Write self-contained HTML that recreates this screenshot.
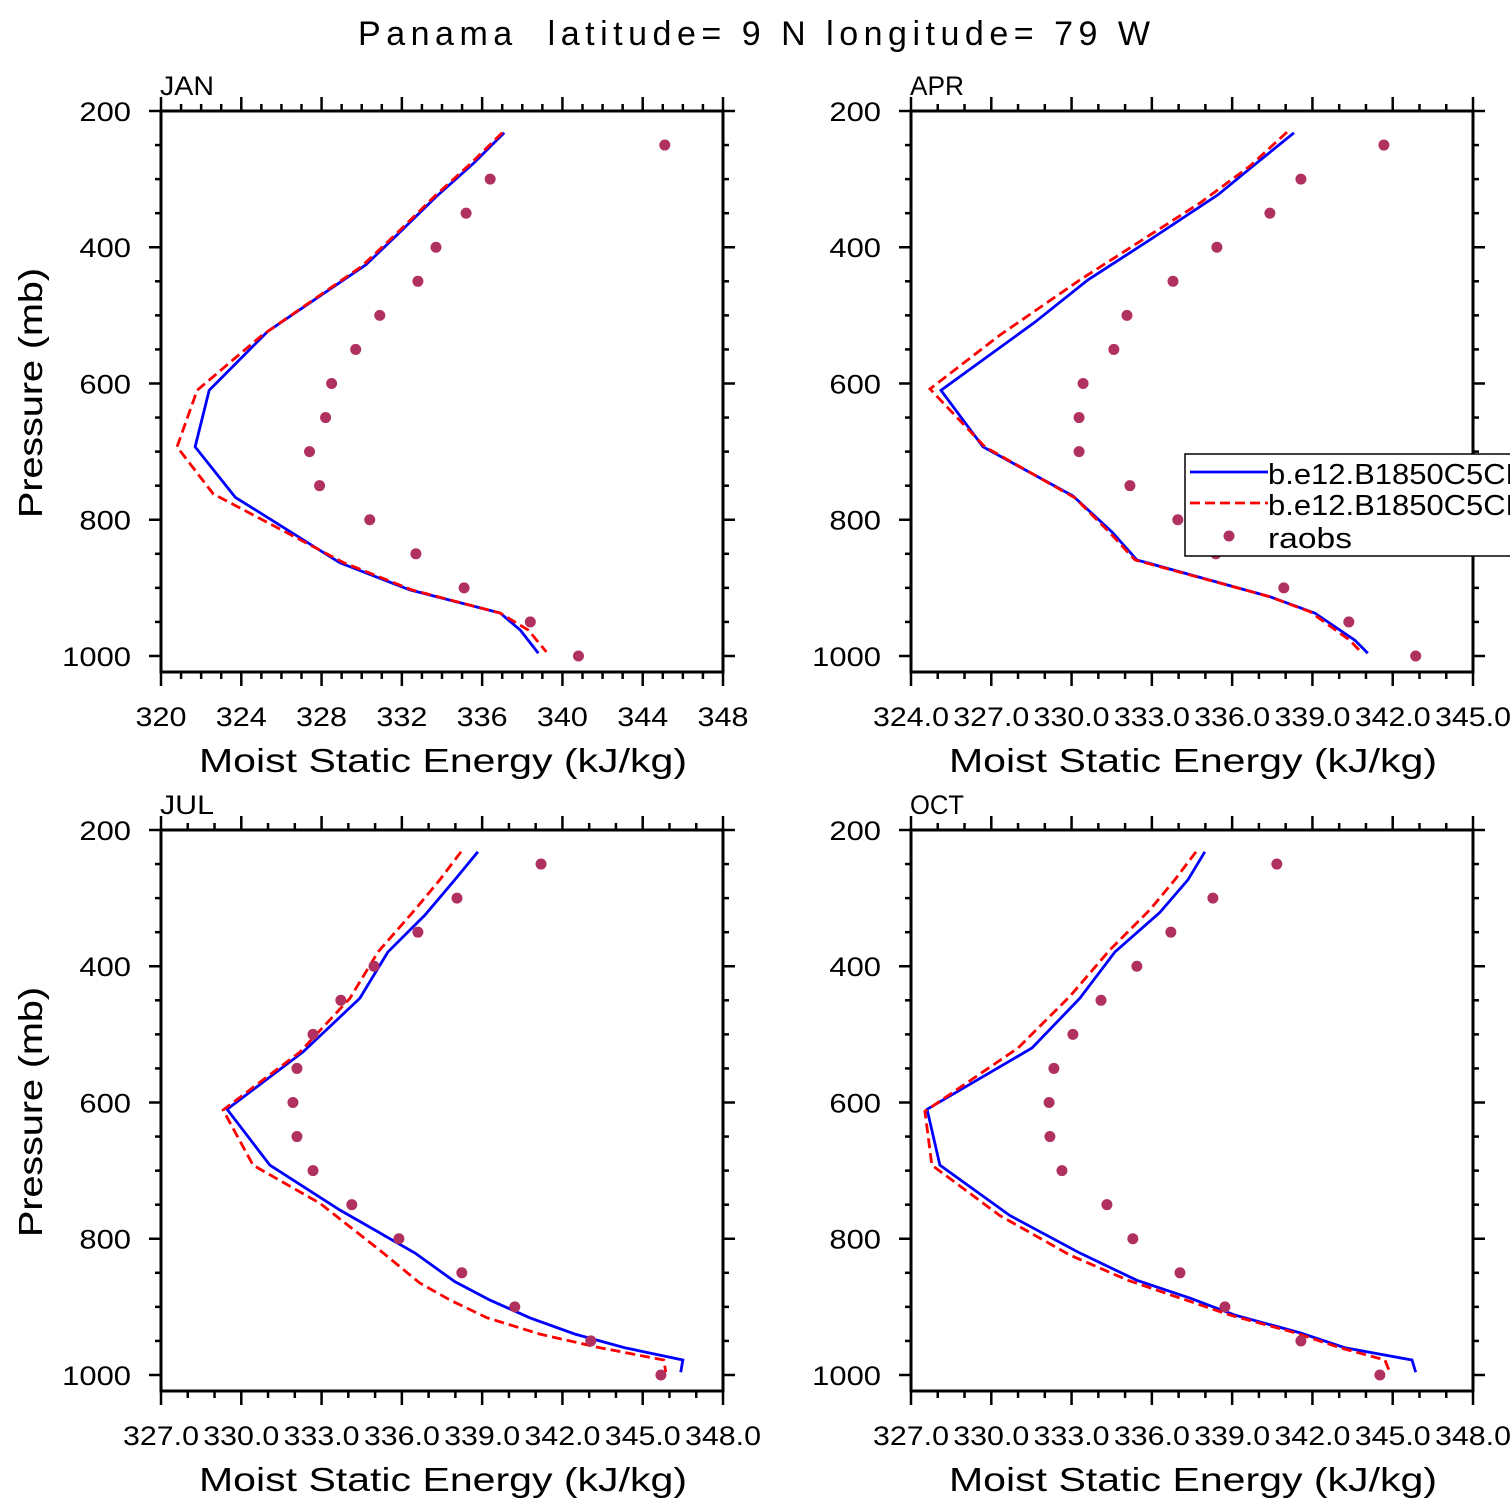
<!DOCTYPE html>
<html><head><meta charset="utf-8"><style>
html,body{margin:0;padding:0;background:#fff;overflow:hidden;}
svg{display:block;font-family:"Liberation Sans",sans-serif;}
</style></head><body>
<svg id="chart" width="1510" height="1510" viewBox="0 0 1510 1510" xmlns="http://www.w3.org/2000/svg">
<rect width="1510" height="1510" fill="#fff"/>
<text x="358" y="45" font-size="34" textLength="792" lengthAdjust="spacing" xml:space="preserve">Panama  latitude= 9 N longitude= 79 W</text>
</svg>
<script>
const rawP = [250,300,350,400,450,500,550,600,650,700,750,800,850,900,950,1000];
const janObs = [345.1,336.4,335.2,333.7,332.8,330.9,329.7,328.5,328.2,327.4,327.9,330.4,332.7,335.1,338.4,340.8];
const janBlueX = [337.1,335.6,333.7,332.0,330.2,325.3,322.4,321.7,323.7,328.9,332.4,336.9,337.9,338.8];
const janBlueP = [232,276,326,375,426,524,610,693,767,863,903,937,962,996];
const janRedX = [337.0,335.4,333.6,331.8,330.0,325.0,321.8,320.8,322.6,329.1,332.5,336.9,338.3,339.2];
const janRedP = [232,278,326,378,428,530,610,693,762,863,903,937,962,994];
const aprObs = [341.67,338.57,337.41,335.43,333.79,332.07,331.58,330.43,330.28,330.28,332.18,333.97,335.39,337.93,340.36,342.86];
const aprBlueX = [338.31,336.96,335.47,332.93,330.61,328.63,325.12,326.69,330.05,331.51,332.44,337.41,339.09,340.59,341.07];
const aprBlueP = [232,275,323,389,448,510,610,693,765,818,859,913,937,977,996];
const aprRedX = [338.05,336.66,334.80,332.93,330.31,327.32,324.71,326.76,330.13,331.43,332.37,337.41,338.91,340.40,340.81];
const aprRedP = [231,281,335,382,448,529,608,693,768,819,859,913,935,977,994];
const julObs = [341.2,338.06,336.6,334.96,333.72,332.68,332.08,331.93,332.08,332.68,334.13,335.89,338.24,340.22,343.06,345.68];
const julBlueX = [338.84,337.98,336.86,335.48,334.43,332.30,329.47,331.07,333.69,336.49,337.98,339.29,340.78,342.47,344.33,346.5,346.42];
const julBlueP = [232,273,325,379,447,526,610,692,758,821,863,890,916,940,960,978,996];
const julRedX = [338.21,337.42,336.49,335.11,334.06,332.19,329.32,330.44,332.94,335.18,336.67,337.80,339.18,341.16,343.40,345.79,345.86];
const julRedP = [232,273,317,379,447,526,611,692,748,817,865,890,916,940,960,978,996];
const octObs = [340.67,338.28,336.71,335.44,334.10,333.05,332.34,332.16,332.19,332.64,334.32,335.29,337.05,338.73,341.57,344.52];
const octBlueX = [337.98,337.35,336.30,334.62,333.31,331.52,327.60,328.08,330.70,333.31,335.44,337.42,339.10,341.53,343.21,345.72,345.86];
const octBlueP = [232,273,321,379,447,520,610,692,766,821,861,887,912,938,960,978,996];
const octRedX = [337.65,336.86,335.93,334.43,332.94,331.00,327.52,327.78,330.32,332.94,335.11,337.05,338.92,341.35,343.03,344.71,344.89];
const octRedP = [232,273,317,376,444,520,613,692,766,824,861,887,912,938,960,978,996];
const yTicks = [200,400,600,800,1000];

const NS='http://www.w3.org/2000/svg';
const svg=document.getElementById('chart');
function mk(tag,attrs,parent){const e=document.createElementNS(NS,tag);for(const k in attrs)e.setAttribute(k,attrs[k]);(parent||svg).appendChild(e);return e;}

const panels=[
 {label:'JAN',x0:161,y0:111,xmin:320,xmax:348,step:4,minor:1,dec:0,obs:janObs,bx:janBlueX,bp:janBlueP,rx:janRedX,rp:janRedP},
 {label:'APR',x0:911,y0:111,xmin:324,xmax:345,step:3,minor:1,dec:1,obs:aprObs,bx:aprBlueX,bp:aprBlueP,rx:aprRedX,rp:aprRedP,legend:true},
 {label:'JUL',x0:161,y0:830,xmin:327,xmax:348,step:3,minor:1,dec:1,obs:julObs,bx:julBlueX,bp:julBlueP,rx:julRedX,rp:julRedP},
 {label:'OCT',x0:911,y0:830,xmin:327,xmax:348,step:3,minor:1,dec:1,obs:octObs,bx:octBlueX,bp:octBlueP,rx:octRedX,rp:octRedP}
];
const W=562,H=561,pmin=200,pmax=1023.5;

panels.forEach(pn=>{
  const g=mk('g',{});
  
  
  const xs=v=>pn.x0+(v-pn.xmin)/(pn.xmax-pn.xmin)*W;
  const ys=p=>pn.y0+(p-pmin)/(pmax-pmin)*H;
  const cp='clip'+pn.label;
  const defs=mk('defs',{},g);
  const c=mk('clipPath',{id:cp},defs);
  mk('rect',{x:pn.x0,y:pn.y0,width:W,height:H},c);
  const fr=mk('rect',{x:pn.x0,y:pn.y0,width:W,height:H,fill:'none',stroke:'#000','stroke-width':3},g);
  
  
  for(let v=pn.xmin;v<=pn.xmax+1e-6;v+=pn.minor){
    const isMaj=Math.abs(((v-pn.xmin)/pn.step)-Math.round((v-pn.xmin)/pn.step))<1e-6;
    const L=isMaj?14:7, x=xs(v);
    mk('line',{x1:x,y1:pn.y0,x2:x,y2:pn.y0-L,stroke:'#000','stroke-width':2.5},g);
    mk('line',{x1:x,y1:pn.y0+H,x2:x,y2:pn.y0+H+L,stroke:'#000','stroke-width':2.5},g);
    if(isMaj){
      const s=v.toFixed(pn.dec);
      const t=mk('text',{x:x,y:pn.y0+H+54,'font-size':27,'text-anchor':'middle',textLength:(s.length*17-(pn.dec?9:0)),lengthAdjust:'spacingAndGlyphs'},g);
      t.textContent=s;
      
      
    }
  }
  for(let p=200;p<=1000;p+=50){
    const isMaj=p%200===0, L=isMaj?12:6, y=ys(p);
    mk('line',{x1:pn.x0,y1:y,x2:pn.x0-L,y2:y,stroke:'#000','stroke-width':2.5},g);
    mk('line',{x1:pn.x0+W,y1:y,x2:pn.x0+W+L,y2:y,stroke:'#000','stroke-width':2.5},g);
  }
  yTicks.forEach(p=>{
    const s=String(p);
    const t=mk('text',{x:pn.x0-30,y:ys(p)+10,'font-size':27,'text-anchor':'end',textLength:s.length*17.2,lengthAdjust:'spacingAndGlyphs'},g);
    t.textContent=s;
    
    
  });
  const lb=mk('text',{x:pn.x0-1,y:pn.y0-16,'font-size':27,textLength:54,lengthAdjust:'spacingAndGlyphs'},g);
  lb.textContent=pn.label;
  
  
  const xt=mk('text',{x:pn.x0+38,y:pn.y0+H+100,'font-size':33,textLength:488,lengthAdjust:'spacingAndGlyphs'},g);
  xt.textContent='Moist Static Energy (kJ/kg)';
  
  
  const yt=mk('text',{transform:`translate(42,${pn.y0+407}) rotate(-90)`,'font-size':33,textLength:250,lengthAdjust:'spacingAndGlyphs'},g);
  yt.textContent='Pressure (mb)';
  
  
  const b=mk('polyline',{points:pn.bx.map((v,i)=>xs(v)+','+ys(pn.bp[i])).join(' '),fill:'none',stroke:'#0000ff','stroke-width':2.8,'clip-path':`url(#${cp})`},g);
  
  
  const r=mk('polyline',{points:pn.rx.map((v,i)=>xs(v)+','+ys(pn.rp[i])).join(' '),fill:'none',stroke:'#ff0000','stroke-width':2.8,'stroke-dasharray':'10,5','clip-path':`url(#${cp})`},g);
  
  
  pn.obs.forEach((v,i)=>{
    const d=mk('circle',{cx:xs(v),cy:ys(rawP[i]),r:5.5,fill:'#b03060'},g);
    
    
  });
  if(pn.legend){
    const lg=mk('g',{},g);
    
    
    mk('rect',{x:1185,y:454,width:340,height:102,fill:'#fff',stroke:'#000','stroke-width':1.5},lg);
    mk('line',{x1:1190,y1:472,x2:1268,y2:472,stroke:'#0000ff','stroke-width':2.8},lg);
    mk('line',{x1:1190,y1:503,x2:1268,y2:503,stroke:'#ff0000','stroke-width':2.8,'stroke-dasharray':'10,5'},lg);
    mk('circle',{cx:1229,cy:536,r:5.5,fill:'#b03060'},lg);
    [['b.e12.B1850C5CN',484,260],['b.e12.B1850C5CN',515,260],['raobs',548,84]].forEach(([s,y,w])=>{
      const t=mk('text',{x:1268,y:y,'font-size':29,textLength:w,lengthAdjust:'spacingAndGlyphs'},lg);
      t.textContent=s;
      
      
    });
  }
});
</script>
</body></html>
